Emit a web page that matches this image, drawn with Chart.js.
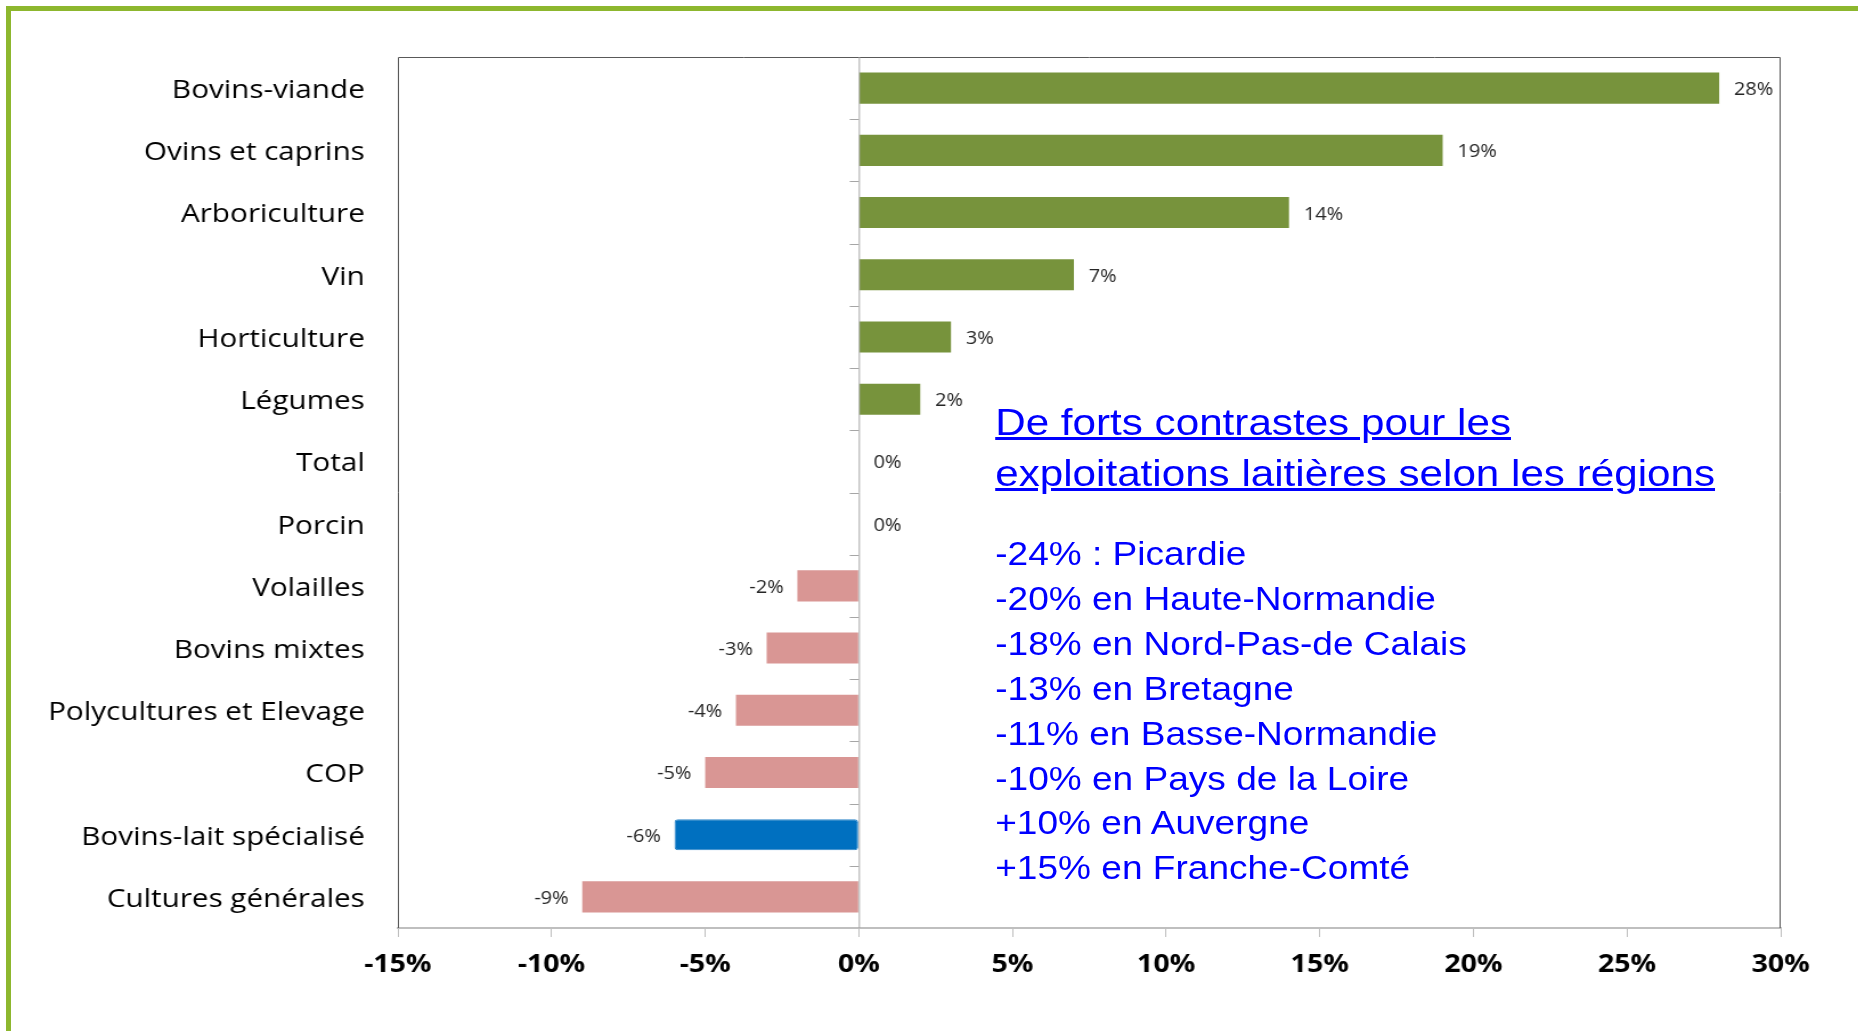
<!DOCTYPE html>
<html>
<head>
<meta charset="utf-8">
<script src="https://cdn.jsdelivr.net/npm/chart.js@4.4.1/dist/chart.umd.min.js"></script>
<style>
  html, body { margin: 0; padding: 0; background: #fff; overflow: hidden; }
  /* the slide is drawn slightly narrow then stretched sideways, like the original */
  #wrap {
    position: absolute; left: 0; top: 0; width: 1630px; height: 1031px;
    transform: scaleX(1.14); transform-origin: 0 0;
  }
  #frame {
    position: absolute; left: 6px; top: 6px; width: 2000px; height: 2000px;
    border: 5px solid #8DB72E; box-sizing: border-box;
  }
  #note {
    position: absolute; left: 873px; top: 397px; white-space: nowrap;
    font-family: "Liberation Sans", Arial, sans-serif; color: #0000FF;
  }
  #note .title { font-size: 37px; line-height: 51px; text-decoration: underline; }
  #note .list { margin-top: 33px; font-size: 32.5px; line-height: 44.9px; }
</style>
</head>
<body>
<div id="wrap">
  <canvas id="myChart" width="1630" height="1031"></canvas>
  <div id="note">
    <div class="title">De forts contrastes pour les<br>exploitations laitières selon les régions</div>
    <div class="list">
      -24% : Picardie<br>
      -20% en Haute-Normandie<br>
      -18% en Nord-Pas-de Calais<br>
      -13% en Bretagne<br>
      -11% en Basse-Normandie<br>
      -10% en Pays de la Loire<br>
      +10% en Auvergne<br>
      +15% en Franche-Comté
    </div>
  </div>
</div>
<div id="frame"></div>
<script>
const categories = ['Bovins-viande', 'Ovins et caprins', 'Arboriculture', 'Vin', 'Horticulture',
  'Légumes', 'Total', 'Porcin', 'Volailles', 'Bovins mixtes', 'Polycultures et Elevage',
  'COP', 'Bovins-lait spécialisé', 'Cultures générales'];
const variation = [28, 19, 14, 7, 3, 2, 0, 0, -2, -3, -4, -5, -6, -9];
const highlight = 'Bovins-lait spécialisé';
const xTicks = [-15, -10, -5, 0, 5, 10, 15, 20, 25, 30];

const FONT = '"Open Sans", Lato, sans-serif';
const barColors = categories.map((c, i) =>
  c === highlight ? '#0070C0' : (variation[i] >= 0 ? '#77933C' : '#D99694'));

// value labels + zero line ticks + plot frame
const extras = {
  id: 'extras',
  afterDatasetsDraw(chart) {
    const { ctx, chartArea: a, scales: { x, y } } = chart;
    const x0 = x.getPixelForValue(0);
    ctx.save();
    // frame
    ctx.strokeStyle = '#595959';
    ctx.lineWidth = 1;
    ctx.beginPath();
    ctx.moveTo(a.left + 0.5, a.bottom);
    ctx.lineTo(a.left + 0.5, a.top + 0.5);
    ctx.lineTo(a.right - 0.5, a.top + 0.5);
    ctx.lineTo(a.right - 0.5, a.bottom);
    ctx.stroke();
    // zero line with small ticks
    ctx.strokeStyle = '#A6A6A6';
    ctx.beginPath();
    ctx.moveTo(x0 + 0.5, a.top);
    ctx.lineTo(x0 + 0.5, a.bottom);
    for (let i = 0; i < categories.length - 1; i++) {
      const yy = Math.round(y.getPixelForValue(i + 0.5)) + 0.5;
      ctx.moveTo(x0, yy);
      ctx.lineTo(x0 - 8, yy);
    }
    ctx.stroke();
    // value labels
    ctx.fillStyle = '#262626';
    ctx.font = '17.5px ' + FONT;
    ctx.textBaseline = 'middle';
    variation.forEach((v, i) => {
      const px = x.getPixelForValue(v);
      const py = y.getPixelForValue(i);
      if (v >= 0) {
        ctx.textAlign = 'left';
        ctx.fillText(v + '%', px + 13, py + 2);
      } else {
        ctx.textAlign = 'right';
        ctx.fillText(v + '%', px - 12, py + 2);
      }
    });
    ctx.restore();
  }
};

const ctx = document.getElementById('myChart').getContext('2d');
window.myChart = new Chart(ctx, {
  type: 'bar',
  data: {
    labels: categories,
    datasets: [{
      data: variation,
      backgroundColor: barColors,
      borderColor: categories.map(c => c === highlight ? '#2E86C9' : 'transparent'),
      borderWidth: categories.map(c => c === highlight ? 1 : 0),
      borderRadius: categories.map(c => c === highlight ? 3 : 0),
      borderSkipped: false,
      barPercentage: 0.5,
      categoryPercentage: 1
    }]
  },
  options: {
    indexAxis: 'y',
    responsive: false,
    animation: false,
    layout: { padding: { top: 57, right: 68, bottom: 0, left: 0 } },
    plugins: { legend: { display: false }, tooltip: { enabled: false } },
    scales: {
      x: {
        min: -15,
        max: 30,
        afterBuildTicks: (scale) => { scale.ticks = xTicks.map(v => ({ value: v })); },
        afterFit: (scale) => { scale.height = 103; },
        border: { display: true, color: '#BFBFBF', width: 2 },
        grid: { drawOnChartArea: false, drawTicks: true, tickLength: 9, color: '#BFBFBF' },
        ticks: {
          padding: 13,
          color: '#000',
          font: { family: FONT, size: 25, weight: 'bold' },
          callback: (v) => v + '%'
        }
      },
      y: {
        afterFit: (scale) => { scale.width = 349; },
        border: { display: false },
        grid: { display: false, drawTicks: false },
        ticks: {
          padding: 29,
          labelOffset: 2.5,
          color: '#000',
          font: { family: FONT, size: 26 }
        }
      }
    }
  },
  plugins: [extras]
});
</script>
</body>
</html>
